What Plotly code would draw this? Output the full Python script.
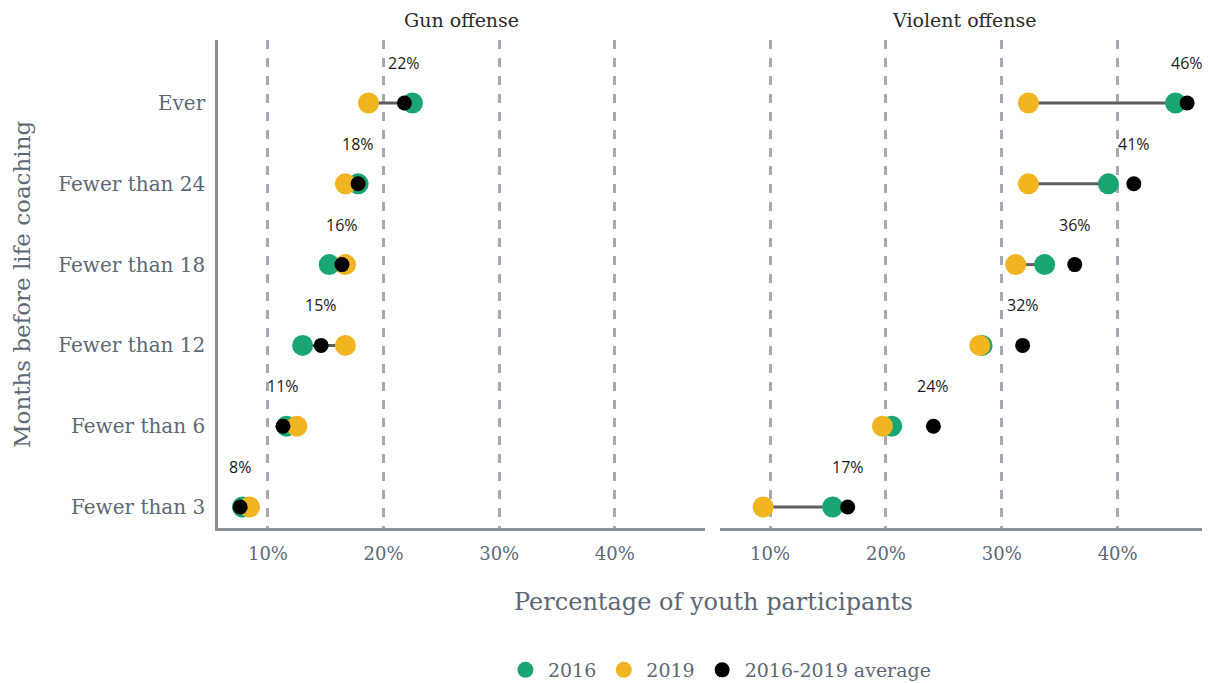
import plotly.graph_objects as go

categories = ["Ever", "Fewer than 24", "Fewer than 18", "Fewer than 12", "Fewer than 6", "Fewer than 3"]
panels = ["Gun offense", "Violent offense"]

gun_2016 = [22.5, 17.8, 15.3, 13.0, 11.6, 7.8]
gun_2019 = [18.7, 16.7, 16.7, 16.7, 12.5, 8.4]
gun_avg = [21.8, 17.8, 16.4, 14.6, 11.3, 7.6]

violent_2016 = [45.0, 39.2, 33.7, 28.3, 20.5, 15.4]
violent_2019 = [32.3, 32.3, 31.2, 28.1, 19.7, 9.4]
violent_avg = [46.0, 41.4, 36.3, 31.8, 24.1, 16.7]

tick_vals = [10, 20, 30, 40]
tick_text = ["10%", "20%", "30%", "40%"]

GREEN = "#1aa673"
YELLOW = "#f0b520"
BLACK = "#000000"
LINE = "#5e5e5e"
GRID = "#a6aab0"
AXIS = "#8a9096"
TXT = "#5d6876"
SERIF = "DejaVu Serif"

fig = go.Figure()

data = [(gun_2016, gun_2019, gun_avg, "x", "y"),
        (violent_2016, violent_2019, violent_avg, "x2", "y")]

for i, (v16, v19, vavg, xa, ya) in enumerate(data):
    lx, ly = [], []
    for a, b, c in zip(v16, v19, categories):
        lx += [a, b, None]
        ly += [c, c, None]
    fig.add_trace(go.Scatter(x=lx, y=ly, mode="lines", line=dict(color=LINE, width=3),
                             showlegend=False, hoverinfo="skip", xaxis=xa, yaxis=ya))
    fig.add_trace(go.Scatter(x=v16, y=categories, mode="markers", name="2016",
                             marker=dict(color=GREEN, size=21), legendgroup="2016",
                             showlegend=(i == 0), xaxis=xa, yaxis=ya))
    fig.add_trace(go.Scatter(x=v19, y=categories, mode="markers", name="2019",
                             marker=dict(color=YELLOW, size=21), legendgroup="2019",
                             showlegend=(i == 0), xaxis=xa, yaxis=ya))
    fig.add_trace(go.Scatter(x=vavg, y=categories, mode="markers", name="2016-2019 average",
                             marker=dict(color=BLACK, size=15), legendgroup="avg",
                             showlegend=(i == 0), xaxis=xa, yaxis=ya))
    for val, cat in zip(vavg, categories):
        fig.add_annotation(x=val, y=cat, xref=xa, yref=ya, text=f"{round(val)}%",
                           showarrow=False, yshift=40,
                           font=dict(family="Open Sans", size=16, color="#1a1a1a"))

xaxis_common = dict(range=[5.68, 47.8], tickvals=tick_vals, ticktext=tick_text,
                    showgrid=True, gridcolor=GRID, gridwidth=2.5, griddash="dash",
                    zeroline=False, showline=True, linecolor=AXIS, linewidth=2.5,
                    ticks="", ticklabelstandoff=8,
                    tickfont=dict(family=SERIF, size=18, color=TXT))

fig.update_layout(
    width=1202, height=675,
    margin=dict(l=210, r=2, t=32, b=155, autoexpand=False),
    plot_bgcolor="white", paper_bgcolor="white",
    xaxis=dict(domain=[0, 0.4919], anchor="y", **xaxis_common),
    xaxis2=dict(domain=[0.5071, 1], anchor="y", **xaxis_common),
    yaxis=dict(type="category", categoryarray=categories, categoryorder="array",
               range=[5.26, -0.78], showgrid=False, zeroline=False,
               showline=True, linecolor=AXIS, linewidth=2.5, ticks="",
               ticklabelstandoff=6,
               tickfont=dict(family=SERIF, size=20, color=TXT)),
    showlegend=True,
    legend=dict(orientation="h", x=0.507, xanchor="center", y=-0.291, yanchor="middle",
                font=dict(family=SERIF, size=19, color=TXT), itemsizing="trace",
                itemwidth=35),
    hovermode=False,
)

for i, name in enumerate(panels):
    fig.add_annotation(x=[0.2460, 0.7536][i], y=1, xref="paper", yref="paper",
                       xanchor="center", yanchor="middle", yshift=20, text=name,
                       showarrow=False,
                       font=dict(family=SERIF, size=19, color="#2b2b2b"))

fig.add_annotation(x=0.5, y=-0.152, xref="paper", yref="paper",
                   xanchor="center", yanchor="middle",
                   text="Percentage of youth participants", showarrow=False,
                   font=dict(family=SERIF, size=24, color=TXT))
fig.add_annotation(x=-0.198, y=0.5, xref="paper", yref="paper", textangle=-90,
                   xanchor="center", yanchor="middle",
                   text="Months before life coaching", showarrow=False,
                   font=dict(family=SERIF, size=23, color=TXT))

fig.write_html("out.html")
